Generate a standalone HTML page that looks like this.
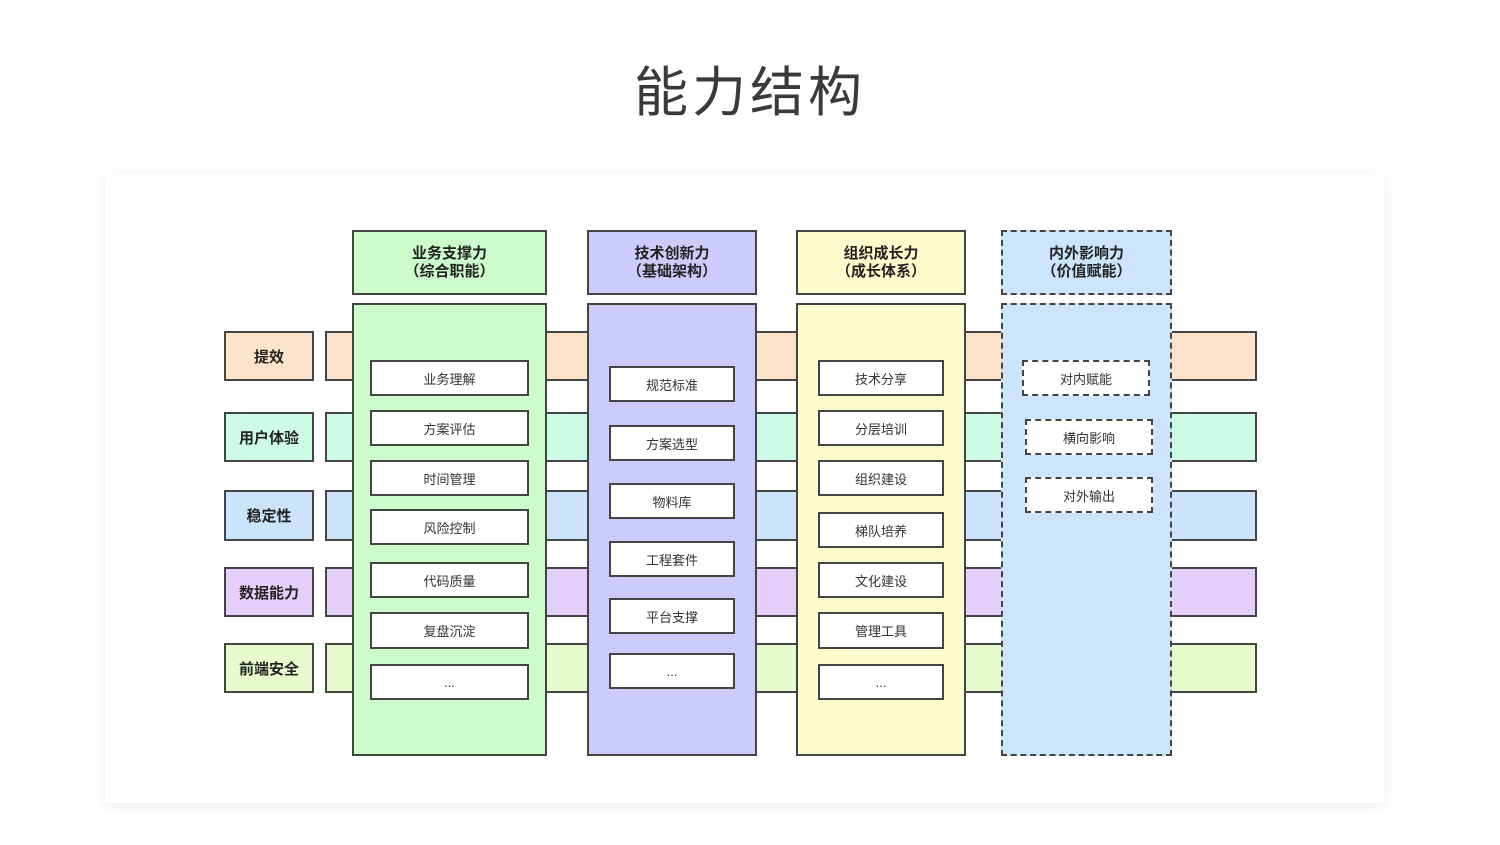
<!DOCTYPE html>
<html><head><meta charset="utf-8"><style>
body{margin:0;width:1500px;height:845px;background:#fff;position:relative;overflow:hidden;font-family:"Liberation Sans","Noto Sans CJK SC",sans-serif;}
.a{position:absolute;box-sizing:border-box;}
.t{position:absolute;left:0;width:1500px;top:48px;text-align:center;font-size:54px;color:#3a3a3a;letter-spacing:4px;}
.card{left:105px;top:175px;width:1279px;height:628px;background:#fff;box-shadow:0 2px 12px rgba(0,0,0,0.08);}
.b{border:2px solid #444;}
.d{border:2px dashed #444;}
.c{display:flex;align-items:center;justify-content:center;text-align:center;color:#222;}
.lab{font-size:15px;font-weight:bold;}
.hd{font-size:15px;font-weight:bold;line-height:18px;}
.in{background:#fff;font-size:13px;color:#333;}
</style></head><body>
<div class="t">能力结构</div>
<div class="a card"></div>

<!-- bands -->
<div class="a b" style="left:325px;top:331px;width:932px;height:50px;background:#fde3c9"></div>
<div class="a b" style="left:325px;top:412px;width:932px;height:50px;background:#ccfbe6"></div>
<div class="a b" style="left:325px;top:490px;width:932px;height:51px;background:#cce4fb"></div>
<div class="a b" style="left:325px;top:567px;width:932px;height:50px;background:#e6d0fb"></div>
<div class="a b" style="left:325px;top:643px;width:932px;height:50px;background:#e6fccc"></div>

<!-- labels -->
<div class="a b c lab" style="left:224px;top:331px;width:90px;height:50px;background:#fde3c9">提效</div>
<div class="a b c lab" style="left:224px;top:412px;width:90px;height:50px;background:#ccfbe6">用户体验</div>
<div class="a b c lab" style="left:224px;top:490px;width:90px;height:51px;background:#cce4fb">稳定性</div>
<div class="a b c lab" style="left:224px;top:567px;width:90px;height:50px;background:#e6d0fb">数据能力</div>
<div class="a b c lab" style="left:224px;top:643px;width:90px;height:50px;background:#e6fccc">前端安全</div>

<!-- column 1 -->
<div class="a b c hd" style="left:352px;top:230px;width:195px;height:65px;background:#ccfccc">业务支撑力<br>（综合职能）</div>
<div class="a b" style="left:352px;top:303px;width:195px;height:453px;background:#ccfccc"></div>
<div class="a b c in" style="left:370px;top:360px;width:159px;height:36px">业务理解</div>
<div class="a b c in" style="left:370px;top:410px;width:159px;height:36px">方案评估</div>
<div class="a b c in" style="left:370px;top:460px;width:159px;height:36px">时间管理</div>
<div class="a b c in" style="left:370px;top:509px;width:159px;height:36px">风险控制</div>
<div class="a b c in" style="left:370px;top:562px;width:159px;height:36px">代码质量</div>
<div class="a b c in" style="left:370px;top:612px;width:159px;height:37px">复盘沉淀</div>
<div class="a b c in" style="left:370px;top:664px;width:159px;height:36px">...</div>

<!-- column 2 -->
<div class="a b c hd" style="left:587px;top:230px;width:170px;height:65px;background:#ccccfc">技术创新力<br>（基础架构）</div>
<div class="a b" style="left:587px;top:303px;width:170px;height:453px;background:#ccccfc"></div>
<div class="a b c in" style="left:609px;top:366px;width:126px;height:36px">规范标准</div>
<div class="a b c in" style="left:609px;top:425px;width:126px;height:36px">方案选型</div>
<div class="a b c in" style="left:609px;top:483px;width:126px;height:36px">物料库</div>
<div class="a b c in" style="left:609px;top:541px;width:126px;height:36px">工程套件</div>
<div class="a b c in" style="left:609px;top:598px;width:126px;height:36px">平台支撑</div>
<div class="a b c in" style="left:609px;top:653px;width:126px;height:36px">...</div>

<!-- column 3 -->
<div class="a b c hd" style="left:796px;top:230px;width:170px;height:65px;background:#fcfccc">组织成长力<br>（成长体系）</div>
<div class="a b" style="left:796px;top:303px;width:170px;height:453px;background:#fcfccc"></div>
<div class="a b c in" style="left:818px;top:360px;width:126px;height:36px">技术分享</div>
<div class="a b c in" style="left:818px;top:410px;width:126px;height:36px">分层培训</div>
<div class="a b c in" style="left:818px;top:460px;width:126px;height:36px">组织建设</div>
<div class="a b c in" style="left:818px;top:512px;width:126px;height:36px">梯队培养</div>
<div class="a b c in" style="left:818px;top:562px;width:126px;height:36px">文化建设</div>
<div class="a b c in" style="left:818px;top:612px;width:126px;height:37px">管理工具</div>
<div class="a b c in" style="left:818px;top:664px;width:126px;height:36px">...</div>

<!-- column 4 -->
<div class="a d c hd" style="left:1001px;top:230px;width:171px;height:65px;background:#cce4fc">内外影响力<br>（价值赋能）</div>
<div class="a d" style="left:1001px;top:303px;width:171px;height:453px;background:#cce4fc"></div>
<div class="a d c in" style="left:1022px;top:360px;width:128px;height:36px">对内赋能</div>
<div class="a d c in" style="left:1025px;top:419px;width:128px;height:36px">横向影响</div>
<div class="a d c in" style="left:1025px;top:477px;width:128px;height:36px">对外输出</div>
</body></html>
